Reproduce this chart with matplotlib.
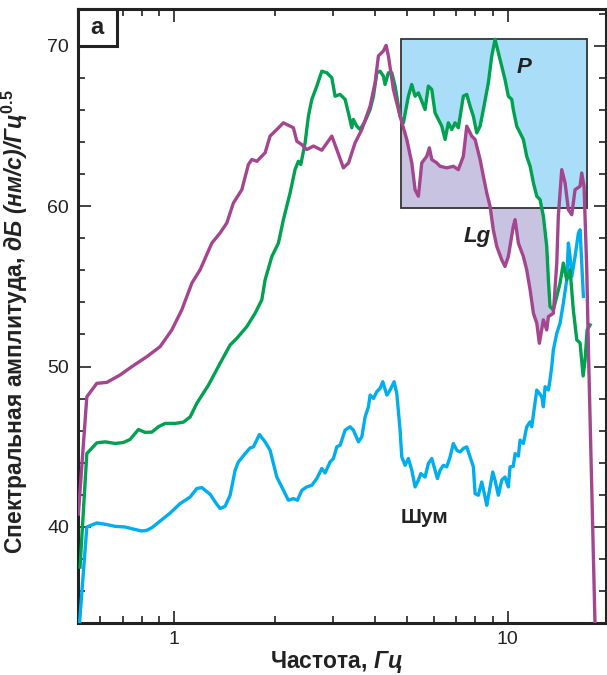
import numpy as np
import matplotlib
matplotlib.use("Agg")
import matplotlib.pyplot as plt
from matplotlib.patches import Rectangle
from matplotlib.ticker import FixedLocator, NullFormatter, MultipleLocator

plt.rcParams['font.family'] = ['Liberation Sans', 'DejaVu Sans']
plt.rcParams['mathtext.fontset'] = 'custom'
plt.rcParams['mathtext.rm'] = 'Liberation Sans:bold'
plt.rcParams['mathtext.bf'] = 'Liberation Sans:bold'
plt.rcParams['mathtext.it'] = 'Liberation Sans:italic:bold'
plt.rcParams['mathtext.bfit'] = 'Liberation Sans:italic:bold'

# Lg spectrum
lg_f = [0.515, 0.546, 0.585, 0.627, 0.687, 0.745, 0.826, 0.906, 0.982, 1.052, 1.128, 1.194,
        1.295, 1.371, 1.436, 1.503, 1.593, 1.667, 1.707, 1.767, 1.871, 1.936, 2.028, 2.123,
        2.275, 2.329, 2.411, 2.495, 2.612, 2.768, 2.966, 3.07, 3.213, 3.33, 3.483, 3.649,
        3.864, 4.0, 4.092, 4.236, 4.315, 4.385, 4.539, 4.753, 4.978, 5.154, 5.272, 5.394,
        5.521, 5.715, 5.82, 5.916, 6.124, 6.265, 6.561, 6.867, 7.108, 7.358, 7.534, 7.798,
        7.98, 8.26, 8.45, 8.65, 8.85, 9.05, 9.27, 9.59, 9.81, 10.04, 10.39, 10.52, 10.76,
        11.14, 11.4, 11.67, 11.94, 12.22, 12.44, 12.79, 13.09, 13.24, 13.7, 14.03, 14.18,
        14.52, 14.86, 15.2, 15.56, 15.92, 16.48, 16.67, 16.94, 17.26, 17.45, 18.27, 18.4]
lg_db = [40.8, 48.11, 48.95, 49.01, 49.47, 49.99, 50.61, 51.24, 52.28, 53.53, 55.2, 56.03,
         57.7, 58.33, 58.95, 60.2, 61.03, 62.6, 62.91, 62.8, 63.33, 64.37, 64.78, 65.2,
         64.89, 64.05, 63.84, 63.53, 63.75, 63.49, 64.37, 63.53, 62.39, 62.7, 63.95, 64.78,
         66.24, 67.7, 69.37, 69.68, 70.03, 69.37, 67.28, 65.61, 64.16, 62.7, 61.03, 60.62,
         62.7, 63.11, 63.64, 62.91, 62.7, 62.49, 62.39, 62.49, 62.28, 63.11, 64.99, 64.37,
         64.16, 62.91, 61.86, 60.82, 59.99, 58.53, 57.49, 56.66, 56.24, 56.86, 58.74, 59.16, 57.7,
         56.86, 56.03, 54.78, 53.32, 52.7, 51.45, 52.91, 52.28, 53.11, 53.32, 56.45, 59.37,
         62.28, 61.45, 59.78, 59.47, 61.03, 61.24, 62.07, 61.24, 56.03, 51.24, 33.97, 33.0]

# P spectrum
p_f = [0.521, 0.546, 0.585, 0.62, 0.664, 0.703, 0.736, 0.78, 0.817, 0.856, 0.895, 0.938,
       1.005, 1.064, 1.115, 1.167, 1.265, 1.371, 1.469, 1.539, 1.649, 1.746, 1.829, 1.871,
       1.96, 2.051, 2.123, 2.223, 2.301, 2.354, 2.394, 2.466, 2.523, 2.583, 2.674, 2.768,
       2.865, 2.966, 3.034, 3.141, 3.251, 3.326, 3.405, 3.443, 3.524, 3.606, 3.733, 3.864,
       3.954, 4.048, 4.14, 4.236, 4.285, 4.385, 4.489, 4.592, 4.753, 4.863, 5.034, 5.152,
       5.272, 5.394, 5.521, 5.649, 5.778, 5.916, 6.053, 6.193, 6.34, 6.486, 6.634, 6.792,
       6.95, 7.108, 7.358, 7.534, 7.708, 7.886, 8.072, 8.26, 8.45, 8.746, 8.954, 9.16,
       9.37, 9.59, 9.81, 10.04, 10.28, 10.39, 10.64, 10.89, 11.14, 11.4, 11.67, 11.94,
       12.22, 12.5, 12.79, 13.09, 13.24, 13.39, 13.7, 14.03, 14.35, 14.68, 15.03, 15.38,
       15.73, 16.11, 16.48, 16.83, 17.06, 17.3, 17.66]
p_db = [37.49, 44.57, 45.24, 45.3, 45.2, 45.26, 45.45, 46.07, 45.89, 45.91, 46.24, 46.45,
        46.45, 46.53, 46.86, 47.7, 48.84, 50.2, 51.34, 51.76, 52.49, 53.32, 54.16, 55.41,
        56.86, 57.7, 59.16, 60.82, 62.28, 62.8, 62.6, 63.95, 65.61, 66.66, 67.49, 68.42,
        68.32, 68.01, 66.86, 66.97, 66.66, 65.82, 64.89, 65.41, 64.99, 64.78, 65.3, 66.03,
        66.86, 68.32, 68.42, 68.11, 67.59, 68.32, 68.32, 67.49, 65.61, 65.2, 66.86, 67.59,
        66.86, 67.07, 66.55, 66.03, 67.49, 67.28, 65.82, 65.41, 64.99, 64.16, 65.2, 64.78,
        65.2, 64.89, 66.86, 66.97, 66.24, 65.61, 64.57, 64.99, 66.03, 67.7, 69.37, 70.41,
        69.58, 68.74, 67.91, 66.86, 66.66, 66.03, 64.99, 64.57, 64.16, 63.11, 62.49, 61.45,
        60.62, 60.41, 59.37, 57.49, 55.41, 53.74, 53.53, 54.37, 55.2, 56.45, 55.41, 56.03,
        53.53, 51.66, 51.47, 49.41, 50.41, 52.28, 52.59]

# noise spectrum
noise_f = [0.519, 0.546, 0.585, 0.62, 0.664, 0.711, 0.753, 0.798, 0.826, 0.856, 0.906, 0.971,
           1.04, 1.115, 1.167, 1.208, 1.28, 1.325, 1.371, 1.419, 1.469, 1.521, 1.556, 1.63,
           1.687, 1.726, 1.799, 1.871, 1.936, 2.028, 2.099, 2.197, 2.275, 2.339, 2.411, 2.495,
           2.583, 2.674, 2.768, 2.831, 2.931, 2.999, 3.07, 3.141, 3.251, 3.365, 3.443, 3.565,
           3.649, 3.733, 3.82, 3.864, 3.954, 4.048, 4.14, 4.218, 4.337, 4.436, 4.56, 4.646,
           4.753, 4.809, 4.92, 5.034, 5.154, 5.272, 5.394, 5.484, 5.649, 5.778, 5.916, 6.053,
           6.151, 6.265, 6.41, 6.561, 6.714, 6.867, 7.031, 7.194, 7.358, 7.534, 7.708, 7.886,
           7.98, 8.164, 8.356, 8.549, 8.65, 8.85, 9.016, 9.16, 9.37, 9.59, 9.81, 10.04,
           10.16, 10.39, 10.52, 10.76, 10.89, 11.14, 11.4, 11.67, 11.8, 11.99, 12.22, 12.44,
           12.65, 12.79, 12.94, 13.24, 13.39, 13.55, 13.7, 14.03, 14.35, 14.68, 15.03, 15.2,
           15.38, 15.56, 15.92, 16.29, 16.48, 16.67, 16.86]
noise_db = [33.97, 39.99, 40.24, 40.16, 40.03, 39.99, 39.86, 39.74, 39.78, 39.95, 40.36, 40.86,
            41.45, 41.86, 42.39, 42.45, 42.03, 41.55, 41.14, 41.28, 41.97, 43.53, 44.05, 44.57,
            44.92, 44.99, 45.76, 45.3, 44.78, 43.11, 42.49, 41.66, 41.76, 41.66, 42.28, 42.49,
            42.59, 43.01, 43.64, 43.36, 44.05, 44.26, 44.99, 45.09, 46.03, 46.24, 46.03, 45.3,
            45.61, 46.86, 47.49, 48.22, 48.01, 48.43, 48.64, 49.05, 48.22, 48.53, 49.05, 48.32,
            46.03, 44.36, 43.84, 44.26, 43.53, 42.49, 42.91, 43.32, 43.11, 43.95, 44.26, 43.53,
            43.01, 43.53, 43.84, 43.74, 44.36, 45.2, 44.78, 44.67, 44.88, 44.99, 44.36, 43.74,
            42.07, 41.97, 42.8, 41.86, 41.34, 42.49, 43.42, 42.91, 41.97, 42.91, 43.11, 42.49,
            43.74, 43.78, 44.57, 44.41, 45.41, 45.2, 46.24, 46.55, 46.24, 47.28, 48.53, 48.32,
            48.11, 47.49, 48.74, 48.53, 49.16, 49.99, 51.03, 52.07, 52.7, 53.95, 55.41, 57.7,
            56.86, 55.61, 56.86, 58.33, 58.53, 56.45, 54.37]

# frame around the window used for the P / Lg comparison
win_f = (4.79, 17.26)
win_db = (59.9, 70.4)

c_lg = '#a3468f'
c_p = '#00a150'
c_noise = '#00aeef'

fig = plt.figure(figsize=(6.07, 6.75), dpi=100)
ax = fig.add_axes([0.1277, 0.077, 0.8705, 0.9097])

# shaded areas inside the window
grid = np.logspace(np.log10(win_f[0]), np.log10(win_f[1]), 1500)
g_p = np.interp(np.log10(grid), np.log10(p_f), p_db)
g_lg = np.interp(np.log10(grid), np.log10(lg_f), lg_db)
ax.fill_between(grid, np.maximum(g_p, win_db[0]), win_db[1], color='#aadef8', lw=0, zorder=1)
ax.fill_between(grid, g_lg, np.minimum(g_p, win_db[0]), where=g_lg < g_p,
                color='#c8c3e1', lw=0, zorder=1, interpolate=True)
ax.add_patch(Rectangle((win_f[0], win_db[0]), win_f[1] - win_f[0], win_db[1] - win_db[0],
                       fill=False, ec='#333333', lw=1.3, zorder=2))

ax.plot(noise_f, noise_db, color=c_noise, lw=2.4, zorder=3)
ax.plot(p_f, p_db, color=c_p, lw=2.4, zorder=3)
ax.plot(lg_f, lg_db, color=c_lg, lw=2.4, zorder=4)

ax.set_xscale('log')
ax.set_xlim(0.512, 19.7)
ax.set_ylim(34.0, 72.3)

ax.xaxis.set_major_locator(FixedLocator([1, 10]))
ax.set_xticklabels(['1', '10'])
ax.xaxis.set_minor_locator(FixedLocator([0.6, 0.7, 0.8, 0.9, 2, 3, 4, 5, 6, 7, 8, 9]))
ax.xaxis.set_minor_formatter(NullFormatter())
ax.yaxis.set_major_locator(FixedLocator([40, 50, 60, 70]))
ax.yaxis.set_minor_locator(MultipleLocator(2))

ax.tick_params(which='both', direction='in', top=True, right=True, width=1.2,
               color='#222222', labelsize=14, labelcolor='#222222')
ax.tick_params(which='major', length=9, pad=6)
ax.tick_params(which='minor', length=5)
for s in ax.spines.values():
    s.set_linewidth(2.2)
    s.set_color('#222222')

ax.set_xlabel(r'Частота, $\mathbfit{Гц}$', fontsize=16.5, fontweight='bold', color='#222222')
ax.xaxis.set_label_coords(0.49, -0.042)
ax.set_ylabel(r'Спектральная амплитуда, $\mathbfit{дБ\ (нм/с)/Гц}^{0.5}$',
              fontsize=16.5, fontweight='bold', color='#222222')
ax.yaxis.set_label_coords(-0.09, 0.49)

ax.text(11.19, 68.66, 'P', fontsize=16, fontweight='bold', style='italic',
        ha='center', va='center', color='#222222', zorder=5)
ax.text(8.09, 58.09, 'Lg', fontsize=16, fontweight='bold', style='italic',
        ha='center', va='center', color='#222222', zorder=5)
ax.text(5.61, 40.6, 'Шум', fontsize=15, fontweight='bold',
        ha='center', va='center', color='#222222', zorder=5)

# panel letter
ax.add_patch(Rectangle((0, 0.94), 0.0738, 0.06, transform=ax.transAxes,
                       fc='white', ec='#222222', lw=2.2, zorder=6, clip_on=False))
ax.text(0.037, 0.97, 'a', transform=ax.transAxes, fontsize=17, fontweight='bold',
        ha='center', va='center', color='#222222', zorder=7)

fig.savefig('out.png', dpi=100)
